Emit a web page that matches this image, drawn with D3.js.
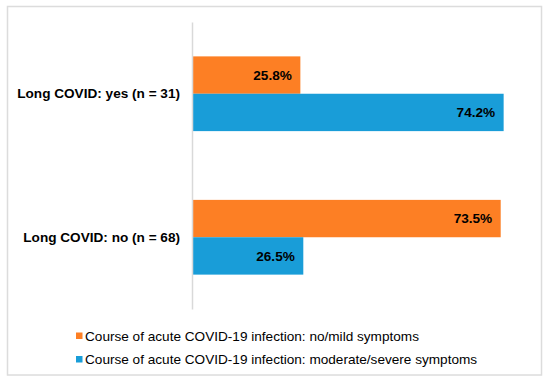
<!DOCTYPE html>
<html>
<head>
<meta charset="utf-8">
<script src="https://cdn.jsdelivr.net/npm/d3@7"></script>
<style>
  body { margin: 0; background: #fff; }
  svg { display: block; font-family: Arial, "Liberation Sans", sans-serif; }
</style>
</head>
<body>
<div id="chart"></div>
<script>
// categories top to bottom
const categories = ["Long COVID: yes (n = 31)", "Long COVID: no (n = 68)"];
const seriesNames = [
	"Course of acute COVID-19 infection: no/mild symptoms",
	"Course of acute COVID-19 infection: moderate/severe symptoms"
];
const mildValues = [25.8, 73.5];
const severeValues = [74.2, 26.5];
const colors = ["#fd7f24", "#199dd8"];

let width = 550;
let height = 384;
let margin = { top: 22, right: 22, bottom: 75, left: 192 };

let svg = d3.select("#chart").append("svg")
	.attr("width", width)
	.attr("height", height);

// outer frame
svg.append("rect")
	.attr("x", 7.5).attr("y", 6.5)
	.attr("width", 534).attr("height", 368.5)
	.attr("fill", "none")
	.attr("stroke", "#dcdcdc")
	.attr("stroke-width", 1.5);

let xScale = d3.scaleLinear()
	.domain([0, 80])
	.range([margin.left, width - margin.right]);

let yScale = d3.scaleBand()
	.domain(categories)
	.range([margin.top, height - margin.bottom])
	.paddingInner(0);

let seriesScale = d3.scaleBand()
	.domain([0, 1])
	.range([0, yScale.bandwidth()])
	.paddingInner(0)
	.paddingOuter(0.92);

let data = categories.map(function(c, i) {
	return { key: c, values: [mildValues[i], severeValues[i]] };
});

let chart = svg.append("g").classed("chart", true);

let groups = chart.selectAll(".seriesGroup")
	.data(data)
	.enter().append("g")
	.attr("class", "seriesGroup")
	.attr("transform", function(d) { return "translate(0," + yScale(d.key) + ")"; });

groups.selectAll("rect")
	.data(function(d) { return d.values; })
	.enter().append("rect")
	.attr("x", xScale(0))
	.attr("y", function(d, i) { return seriesScale(i); })
	.attr("width", function(d) { return xScale(d) - xScale(0); })
	.attr("height", seriesScale.bandwidth())
	.attr("fill", function(d, i) { return colors[i]; });

groups.selectAll("text.value")
	.data(function(d) { return d.values; })
	.enter().append("text")
	.attr("class", "value")
	.attr("x", function(d) { return xScale(d) - 8.5; })
	.attr("y", function(d, i) { return seriesScale(i) + seriesScale.bandwidth() / 2; })
	.attr("dy", "0.36em")
	.attr("text-anchor", "end")
	.style("font-size", "13.6px")
	.style("font-weight", "bold")
	.attr("fill", "#000")
	.text(function(d) { return d.toFixed(1) + "%"; });

// Y axis
let yAxis = d3.axisLeft(yScale).tickSize(0).tickPadding(12);
let yg = chart.append("g")
	.attr("transform", "translate(" + xScale(0) + ",0)")
	.call(yAxis);
yg.select(".domain")
	.attr("stroke", "#d9d9d9")
	.attr("stroke-width", 1.5);
yg.selectAll("text")
	.style("font-size", "13.6px")
	.style("font-weight", "bold")
	.style("font-family", "Arial, 'Liberation Sans', sans-serif")
	.attr("fill", "#000");

// legend
let legend = svg.append("g")
	.attr("transform", "translate(76,332.5)");
let items = legend.selectAll("g")
	.data(seriesNames)
	.enter().append("g")
	.attr("transform", function(d, i) { return "translate(0," + i * 23.5 + ")"; });
items.append("rect")
	.attr("width", 6.5).attr("height", 6.5)
	.attr("fill", function(d, i) { return colors[i]; });
items.append("text")
	.attr("x", 9)
	.attr("y", 3.5)
	.attr("dy", "0.36em")
	.style("font-size", "13.6px")
	.attr("fill", "#000")
	.text(function(d) { return d; });
</script>
</body>
</html>
